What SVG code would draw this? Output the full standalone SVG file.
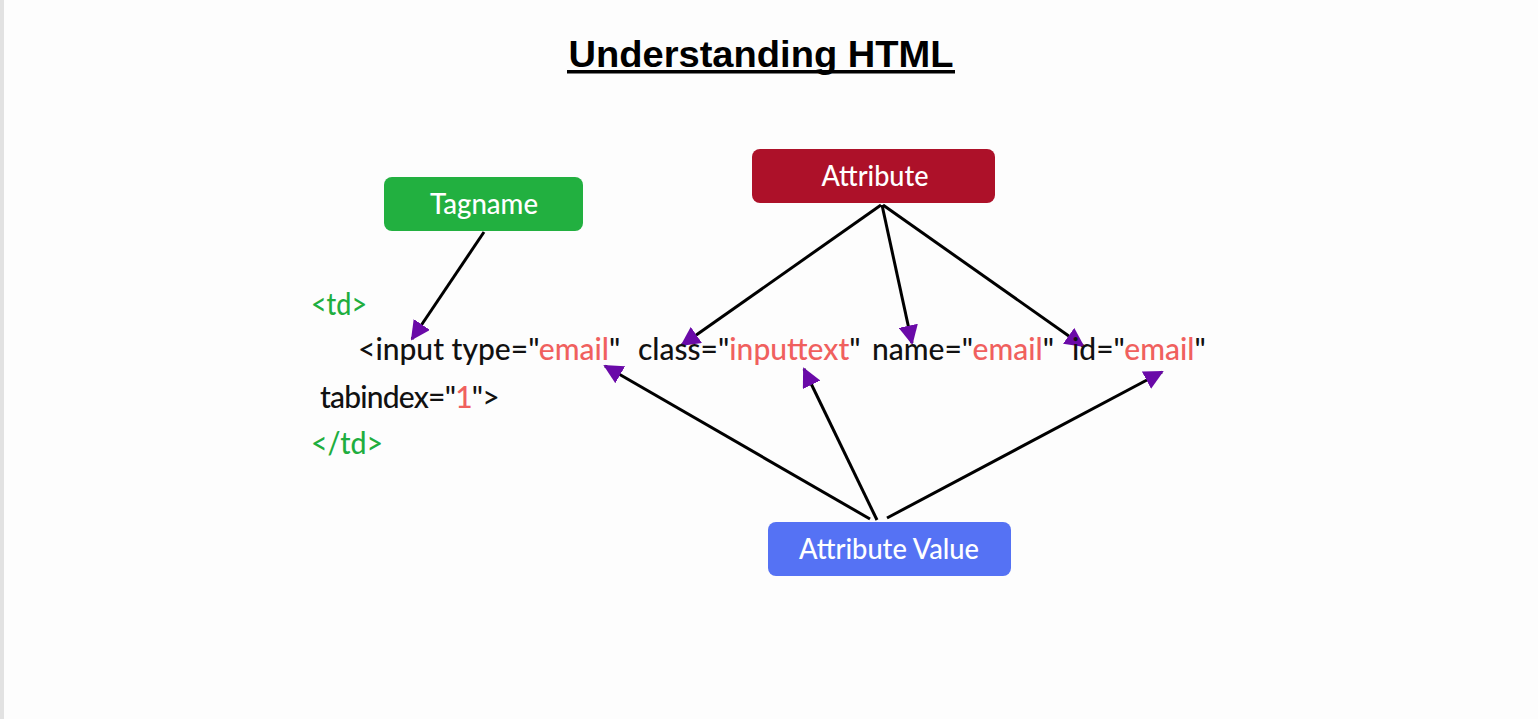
<svg xmlns="http://www.w3.org/2000/svg" width="1538" height="719" viewBox="0 0 1538 719">
<defs>
<style>
.box-label{font-family:Lato,"Open Sans",sans-serif;font-size:28px;font-weight:500;fill:#ffffff;text-anchor:middle}
.code{font-family:Lato,"Open Sans",sans-serif;font-size:30px;font-weight:500}
.k{fill:#111111}
.v{fill:#f0605e}
.g{fill:#1fae3f}
.conn{stroke:#000000;stroke-width:3;fill:none;marker-end:url(#ah)}
</style>
<marker id="ah" viewBox="0 0 10 10" refX="9" refY="5" markerWidth="6.5" markerHeight="6.5" markerUnits="strokeWidth" orient="auto">
<path d="M0,0 L10,5 L0,10 z" fill="#6a0aa8"/>
</marker>
</defs>
<rect x="0" y="0" width="1538" height="719" fill="#fdfdfd"/>
<rect x="0" y="0" width="4" height="719" fill="#e2e2e2"/>

<g id="title">
<text x="761" y="67" font-family="Liberation Sans,Arial,sans-serif" font-weight="bold" font-size="36" text-anchor="middle" fill="#000" textLength="385" lengthAdjust="spacingAndGlyphs">Understanding HTML</text>
<rect x="567" y="70" width="388" height="3.5" fill="#000"/>
</g>

<g id="connectors">
<line class="conn" x1="484" y1="232" x2="412" y2="339"/>
<line class="conn" x1="881" y1="205" x2="682" y2="345"/>
<line class="conn" x1="882" y1="205" x2="912" y2="343"/>
<line class="conn" x1="883" y1="205" x2="1083" y2="346"/>
<line class="conn" x1="870" y1="519" x2="605" y2="366"/>
<line class="conn" x1="877" y1="520" x2="804" y2="369"/>
<line class="conn" x1="887" y1="518" x2="1162" y2="372"/>
</g>

<g id="node-tagname">
<rect x="384" y="177" width="199" height="54" rx="8" fill="#22b040"/>
<text class="box-label" x="484" y="214" textLength="108" lengthAdjust="spacingAndGlyphs">Tagname</text>
</g>
<g id="node-attribute">
<rect x="752" y="149" width="243" height="54" rx="8" fill="#ad1129"/>
<text class="box-label" x="875" y="186" textLength="107" lengthAdjust="spacingAndGlyphs">Attribute</text>
</g>
<g id="node-attribute-value">
<rect x="768" y="522" width="243" height="54" rx="8" fill="#5572f4"/>
<text class="box-label" x="889" y="559" textLength="180" lengthAdjust="spacingAndGlyphs">Attribute Value</text>
</g>

<g id="code">
<text class="code g" x="311" y="315" textLength="56" lengthAdjust="spacingAndGlyphs">&lt;td&gt;</text>
<text class="code k" y="360"><tspan x="358">&lt;input type="</tspan><tspan class="v">email</tspan><tspan>"</tspan><tspan x="638">class="</tspan><tspan class="v">inputtext</tspan><tspan>"</tspan><tspan x="872">name="</tspan><tspan class="v">email</tspan><tspan>"</tspan><tspan x="1072">id="</tspan><tspan class="v">email</tspan><tspan>"</tspan></text>
<text class="code k" x="320" y="408" letter-spacing="-0.8">tabindex="<tspan class="v">1</tspan>"&gt;</text>
<text class="code g" x="311" y="454" textLength="72" lengthAdjust="spacingAndGlyphs">&lt;/td&gt;</text>
</g>
</svg>
